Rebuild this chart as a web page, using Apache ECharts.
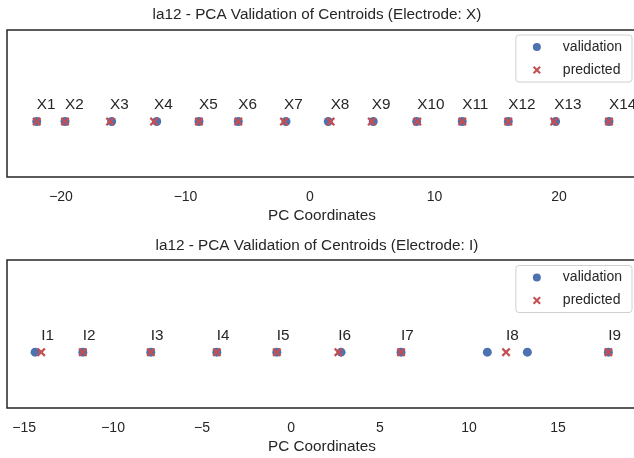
<!DOCTYPE html>
<html>
<head>
<meta charset="utf-8">
<script src="https://cdn.jsdelivr.net/npm/echarts@6/dist/echarts.min.js"></script>
<style>
html,body{margin:0;padding:0;background:#fff;}
#chart{width:634px;height:458px;}
</style>
</head>
<body>
<div id="chart"></div>
<script>
// ---- Data ----
const xCategories = ['X1','X2','X3','X4','X5','X6','X7','X8','X9','X10','X11','X12','X13','X14'];
const xValidation = [-21.95,-19.68,-15.93,-12.31,-8.92,-5.76,-1.93,1.47,5.08,8.57,12.23,15.93,19.73,24.02];
const xPredicted  = [-21.95,-19.68,-16.06,-12.53,-8.92,-5.76,-2.09,1.66,4.96,8.62,12.23,15.93,19.62,24.02];
const xTicks = [-20,-10,0,10,20];

const iCategories = ['I1','I2','I3','I4','I5','I6','I7','I8','I9'];
const iValidation = [-14.38,-11.70,-7.88,-4.17,-0.80,2.81,6.18,11.03,13.28,17.83];
const iPredicted  = [-14.04,-11.70,-7.88,-4.17,-0.80,2.66,6.18,12.08,17.83];
const iTicks = [-15,-10,-5,0,5,10,15];

const titles = ['la12 - PCA Validation of Centroids (Electrode: X)','la12 - PCA Validation of Centroids (Electrode: I)'];
const axisName = 'PC Coordinates';

// ---- Styling ----
const FONT = '"Liberation Sans", Arial, sans-serif';
const TXT = '#262626';
const BLUE = '#4C72B0';
const RED = '#C44E52';
const XPATH = 'path://M0,1.8L1.8,0L5,3.2L8.2,0L10,1.8L6.8,5L10,8.2L8.2,10L5,6.8L1.8,10L0,8.2L3.2,5Z';

const chart = echarts.init(document.getElementById('chart'), null, {renderer:'canvas'});

function minusFmt(v){ return String(v).replace('-', '\u2212'); }

function xAxisCfg(idx, min, max, ticks){
  return {
    gridIndex: idx, type: 'value', min: min, max: max,
    axisLine: {show:false}, axisTick: {show:false}, splitLine: {show:false},
    axisLabel: {customValues: ticks, formatter: minusFmt, fontSize: 14, color: TXT, fontFamily: FONT, margin: 13},
    name: axisName, nameLocation: 'middle', nameGap: 31,
    nameTextStyle: {fontSize: 15.3, color: TXT, fontFamily: FONT}
  };
}
function yAxisCfg(idx){
  return {gridIndex: idx, type:'value', min:-1, max:1.65, show:false};
}
function legendCfg(top){
  return {
    orient:'vertical', right: 2, top: top,
    data: [{name:'validation', icon:'circle'}, {name:'predicted', icon: XPATH}],
    itemWidth: 8, itemHeight: 8, itemGap: 7,
    padding: [4, 10, 4, 17],
    borderColor: '#d0d0d0', borderWidth: 1, borderRadius: 3,
    backgroundColor: 'rgba(255,255,255,0.8)',
    textStyle: {fontSize: 14, color: TXT, fontFamily: FONT, lineHeight: 16, padding: [0, 0, 0, 17]},
    selectedMode: false
  };
}
function valSeries(idx, vals){
  return {
    name:'validation', type:'scatter', xAxisIndex: idx, yAxisIndex: idx,
    symbol:'circle', symbolSize: 9, itemStyle:{color: BLUE, opacity:1},
    data: vals.map(v => [v, 0]), silent:true, z: 2
  };
}
function predSeries(idx, vals, names){
  return {
    name:'predicted', type:'scatter', xAxisIndex: idx, yAxisIndex: idx,
    symbol: XPATH, symbolSize: 9, itemStyle:{color: RED, opacity:1},
    data: vals.map((v,i) => ({name: names[i], value:[v, 0]})),
    label: {show:true, formatter: p => p.name, position:[4.5,-19.5], align:'left', verticalAlign:'top',
            fontSize: 15.3, color: TXT, fontFamily: FONT},
    silent:true, z: 3
  };
}

chart.setOption({
  animation: false,
  backgroundColor: '#fff',
  textStyle: {fontFamily: FONT},
  title: [
    {text: titles[0], left: 317, top: 7, textAlign:'center', padding:0,
     textStyle:{fontSize:15.3, fontWeight:'normal', color: TXT, fontFamily: FONT}},
    {text: titles[1], left: 317, top: 238, textAlign:'center', padding:0,
     textStyle:{fontSize:15.3, fontWeight:'normal', color: TXT, fontFamily: FONT}}
  ],
  legend: [legendCfg(35), legendCfg(265.5)],
  grid: [
    {left: 7, width: 630, top: 30, height: 147, outerBoundsMode: 'none', containLabel: false,
     show:true, borderColor: TXT, borderWidth: 1.5, backgroundColor:'transparent'},
    {left: 7, width: 630, top: 260, height: 148, outerBoundsMode: 'none', containLabel: false,
     show:true, borderColor: TXT, borderWidth: 1.5, backgroundColor:'transparent'}
  ],
  xAxis: [xAxisCfg(0, -24.34, 26.27, xTicks), xAxisCfg(1, -15.96, 19.44, iTicks)],
  yAxis: [yAxisCfg(0), yAxisCfg(1)],
  series: [
    valSeries(0, xValidation), predSeries(0, xPredicted, xCategories),
    valSeries(1, iValidation), predSeries(1, iPredicted, iCategories)
  ]
});
</script>
</body>
</html>
